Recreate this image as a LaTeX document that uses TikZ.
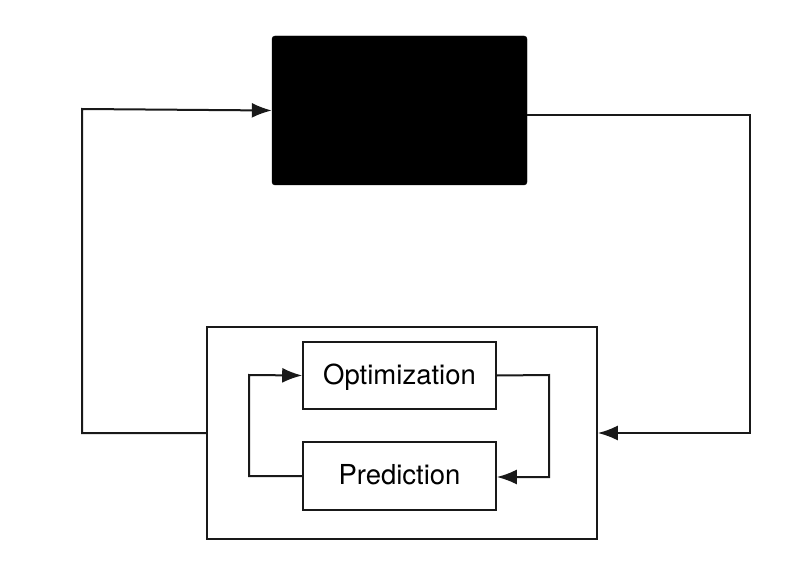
\documentclass[tikz,border=0pt]{standalone}
\usepackage{fontspec}
\setmainfont{TeX Gyre Heros}
\usetikzlibrary{arrows.meta,calc}
\tikzset{
  wire/.style={line width=2pt, draw=black!90},
  arr/.style={wire, -{Latex[length=20pt,width=15pt]}},
  blockbox/.style={draw=black!90, line width=1.6pt, minimum width=193pt, minimum height=67pt, inner sep=0pt, text height=20pt, text depth=3pt, font=\fontsize{27.5}{30}\selectfont},
}
\begin{document}
\begin{tikzpicture}[x=1pt,y=-1pt]
\useasboundingbox (0,0) rectangle (800,588);
\node[fill=black, draw=black, rounded corners=3pt, minimum width=255pt, minimum height=149pt, inner sep=0pt] (bb) at (399.5,110.5) {};
\node[draw=black!90, line width=1.6pt, minimum width=390pt, minimum height=212pt, inner sep=0pt] (outer) at (402,433) {};
\node[blockbox] (opt) at (399.5,375.5) {Optimization};
\node[blockbox, minimum height=68pt] (pred) at (399.5,476) {Prediction};
\coordinate (bbout) at (527,115);
\coordinate (lt) at (82,433);
\coordinate (lb) at (82,109);
\coordinate (rt) at (750,115);
\coordinate (rb) at (750,433);
\coordinate (il) at (249,476);
\coordinate (ilt) at (249,375);
\coordinate (ir) at (549,375);
\coordinate (irb) at (549,477);
\draw[arr] (outer.west) -- (lt) -- (lb) -- (bb.west);
\draw[arr] (bbout) -- (rt) -- (rb) -- (outer.east);
\draw[arr] (pred.west) -- (il) -- (ilt) -- (opt.west);
\draw[arr] (opt.east) -- (ir) -- (irb) -- (pred.east |- irb);
\end{tikzpicture}
\end{document}
